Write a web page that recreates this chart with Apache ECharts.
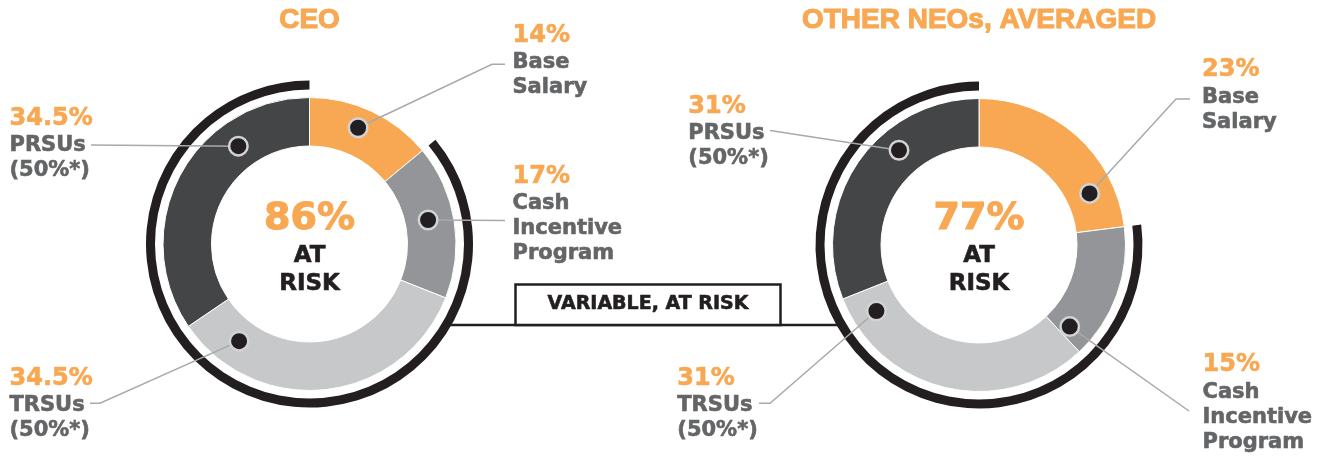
<!DOCTYPE html>
<html>
<head>
<meta charset="utf-8">
<script src="https://cdn.jsdelivr.net/npm/echarts@6/dist/echarts.min.js"></script>
<style>
  html, body { margin: 0; padding: 0; background: #fff; }
  #chart { width: 1325px; height: 457px; }
</style>
</head>
<body>
<div id="chart"></div>
<script>
// Target pay mix, share of total by element (clockwise from 12 o'clock)
const categories = ['Base Salary', 'Cash Incentive Program', 'TRSUs', 'PRSUs'];
const categoryLines = [['Base', 'Salary'], ['Cash', 'Incentive', 'Program'], ['TRSUs', '(50%*)'], ['PRSUs', '(50%*)']];
const ceoValues = [14, 17, 34.5, 34.5];
const neoValues = [23, 15, 31, 31];
const atRiskValues = [86, 77];
const panelTitles = ['CEO', 'OTHER NEOs, AVERAGED'];
const centerCaption = ['AT', 'RISK'];
const bridgeLabel = 'VARIABLE, AT RISK';

// Styling
const ORANGE = '#F8A852';
const INK = '#231F20';
const LABEL_GRAY = '#646567';
const LEADER = '#A7A9AC';
const sliceColors = [ORANGE, '#939598', '#C7C8CA', '#434547'];
const LABEL_FONT = '"DejaVu Sans", Verdana, sans-serif';
const TITLE_FONT = '"Liberation Sans", Arial, sans-serif';

const R_IN = 98, R_OUT = 146.5;          // donut ring
const RING_IN = 154.5, RING_OUT = 163.5; // at-risk arc

// Per-panel layout: donut centre and callout placement
// frac = where the marker sits along its slice, r = marker radius,
// text = [left x, baseline of the percentage line], path = leader points towards the text
const panels = [
  {
    center: [309.5, 244], values: ceoValues, atRisk: atRiskValues[0], title: panelTitles[0],
    callouts: [
      { frac: 0.45, r: 126, text: [512.5, 44],  path: [[492, 64.3], [505, 64.3]] },
      { frac: 0.46, r: 121, text: [512.5, 185], path: [[505, 220.5]] },
      { frac: 0.84, r: 120, text: [9.5, 387],   path: [[100, 403.3], [90, 403.3]] },
      { frac: 0.71, r: 121, text: [9.5, 127],   path: [[91, 145]] }
    ]
  },
  {
    center: [979, 245], values: neoValues, atRisk: atRiskValues[1], title: panelTitles[1],
    callouts: [
      { frac: 0.785, r: 122, text: [1202, 78.5],    path: [[1176, 99], [1190, 99]] },
      { frac: 0.91,  r: 122, text: [1202.5, 373.5], path: [[1189, 411]] },
      { frac: 0.90,  r: 122, text: [677.3, 387],    path: [[770, 403.3], [759, 403.3]] },
      { frac: 0.64,  r: 124, text: [688.3, 115],    path: [[770, 130.5]] }
    ]
  }
];

const chart = echarts.init(document.getElementById('chart'), null, { renderer: 'canvas' });

// Text placed by its alphabetic baseline (canvas "middle" sits ~0.346em above it);
// a thin same-colour outline gives the heavy display weight
function txt(str, x, baseline, size, color, align, family, weight) {
  return {
    type: 'text', x: x, y: baseline - 0.346 * size, z: 20, silent: true,
    style: {
      text: str, fill: color, stroke: color, lineWidth: weight == null ? 0.6 : weight,
      fontSize: size, fontWeight: 'bold',
      fontFamily: family || LABEL_FONT, align: align || 'left', verticalAlign: 'middle'
    }
  };
}

const series = [];
panels.forEach(function (p, i) {
  // Pay-element donut
  series.push({
    type: 'pie', center: p.center, radius: [R_IN, R_OUT], startAngle: 90, clockwise: true,
    silent: true, animation: false, label: { show: false }, labelLine: { show: false },
    itemStyle: { borderColor: '#fff', borderWidth: 1 },
    data: p.values.map(function (v, k) {
      return { name: categories[k], value: v, itemStyle: { color: sliceColors[k] } };
    })
  });
  // Outer arc spanning the variable, at-risk portion
  series.push({
    type: 'pie', center: p.center, radius: [RING_IN, RING_OUT], startAngle: 90, clockwise: true,
    silent: true, animation: false, label: { show: false }, labelLine: { show: false },
    data: [
      { name: 'fixed', value: 100 - p.atRisk, itemStyle: { color: 'rgba(0,0,0,0)' } },
      { name: 'at risk', value: p.atRisk, itemStyle: { color: INK } }
    ]
  });
  // Callout markers, positioned on the polar axes by slice share
  let acc = 0;
  const markers = p.values.map(function (v, k) {
    const a = acc + p.callouts[k].frac * v;
    acc += v;
    return [p.callouts[k].r, a];
  });
  series.push({
    type: 'scatter', coordinateSystem: 'polar', polarIndex: i, silent: true, animation: false,
    symbol: 'circle', symbolSize: 18.5, z: 10,
    itemStyle: { color: INK, borderColor: '#D1D3D4', borderWidth: 2.5, opacity: 1 },
    data: markers
  });
});

chart.setOption({
  animation: false,
  polar: panels.map(function (p) { return { center: p.center, radius: [0, R_OUT] }; }),
  angleAxis: panels.map(function (p, i) {
    return { polarIndex: i, type: 'value', min: 0, max: 100, startAngle: 90, clockwise: true, show: false };
  }),
  radiusAxis: panels.map(function (p, i) {
    return { polarIndex: i, type: 'value', min: 0, max: R_OUT, show: false };
  }),
  series: series
});

// Annotation layer: titles, centre totals, leader lines, callout text, bridge box
const g = [];
panels.forEach(function (p, i) {
  const cx = p.center[0];
  g.push(txt(p.title, cx, 30, 28, ORANGE, 'center', TITLE_FONT, 1.1));
  g.push(txt(p.atRisk + '%', cx, 232.7, 38, ORANGE, 'center', null, 1.1));
  g.push(txt(centerCaption[0], cx, 264.3, 23, INK, 'center'));
  g.push(txt(centerCaption[1], cx, 291.7, 23, INK, 'center'));

  const scatterIndex = i * 3 + 2;
  const markerData = series[scatterIndex].data;
  p.callouts.forEach(function (c, k) {
    const start = chart.convertToPixel({ seriesIndex: scatterIndex }, markerData[k]);
    g.push({
      type: 'polyline', z: 5, silent: true,
      shape: { points: [start].concat(c.path) },
      style: { stroke: LEADER, lineWidth: 1.5, fill: null }
    });
    const tx = c.text[0];
    let base = c.text[1];
    g.push(txt(p.values[k] + '%', tx, base, 24, ORANGE, 'left'));
    base += 26;
    categoryLines[k].forEach(function (line) {
      g.push(txt(line, tx, base, 21, LABEL_GRAY, 'left'));
      base += 25;
    });
  });
});

// Bridge between the two at-risk arcs
const bridgeY = 325;
const c1 = panels[0].center, c2 = panels[1].center;
const rMid = (RING_IN + RING_OUT) / 2;
const x1 = c1[0] + Math.sqrt(rMid * rMid - Math.pow(bridgeY - c1[1], 2));
const x2 = c2[0] - Math.sqrt(rMid * rMid - Math.pow(bridgeY - c2[1], 2));
g.push({
  type: 'line', z: 3, silent: true,
  shape: { x1: x1, y1: bridgeY, x2: x2, y2: bridgeY },
  style: { stroke: INK, lineWidth: 2.5 }
});
g.push({
  type: 'rect', z: 4, silent: true,
  shape: { x: 515.5, y: 284.5, width: 265, height: 40.5 },
  style: { fill: '#fff', stroke: INK, lineWidth: 2.5 }
});
g.push(txt(bridgeLabel, 648, 311, 19, INK, 'center', null, 0.6));

chart.setOption({ graphic: { elements: g } });
</script>
</body>
</html>
